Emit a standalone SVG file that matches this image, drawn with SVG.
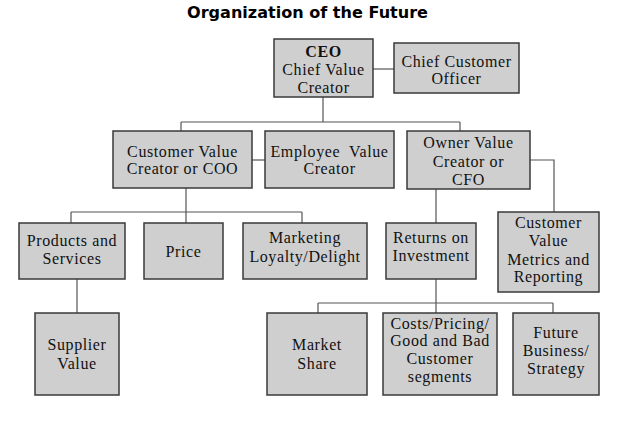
<svg xmlns="http://www.w3.org/2000/svg" width="626" height="433" viewBox="0 0 626 433">
<style>
.box{fill:#cfcfcf;stroke:#3a3a3a;stroke-width:1.5}
.t{font-family:"Liberation Serif","Times New Roman",serif;font-size:16px;letter-spacing:0.6px;fill:#111;text-anchor:middle}
.title{font-family:"DejaVu Sans",Verdana,sans-serif;font-size:15px;font-weight:bold;fill:#000;text-anchor:middle}
.c{fill:none;stroke:#555;stroke-width:1.2}
</style>
<rect width="626" height="433" fill="#fff"/>
<text class="title" x="307.5" y="17.5" textLength="241" lengthAdjust="spacingAndGlyphs">Organization of the Future</text>
<g id="connectors">
<path class="c" d="M373 69H394"/>
<path class="c" d="M323 97V122M181 122H460M181 122V131M460 122V131"/>
<path class="c" d="M252 160H265"/>
<path class="c" d="M186 188V212M71 212H302M71 212V223M302 212V223M186 212V223"/>
<path class="c" d="M77 279V313"/>
<path class="c" d="M436 189V223M530 160H554V212"/>
<path class="c" d="M436 279V303M318 303H553M318 303V313M553 303V313M436 303V313"/>
</g>
<g id="ceo"><rect class="box" x="274" y="39" width="99" height="58"/>
<text class="t" x="323.5" y="56.5" font-weight="bold">CEO</text>
<text class="t" x="323.5" y="75">Chief Value</text>
<text class="t" x="323.5" y="93">Creator</text></g>
<g id="cco"><rect class="box" x="394" y="43" width="125" height="50"/>
<text class="t" x="456.5" y="66.5">Chief Customer</text>
<text class="t" x="456.5" y="84">Officer</text></g>
<g id="coo"><rect class="box" x="113" y="131" width="139" height="57"/>
<text class="t" x="182.5" y="156.5">Customer Value</text>
<text class="t" x="182.5" y="174">Creator or COO</text></g>
<g id="employee"><rect class="box" x="265" y="131" width="129" height="57"/>
<text class="t" x="329.5" y="156.5" xml:space="preserve">Employee  Value</text>
<text class="t" x="329.5" y="174">Creator</text></g>
<g id="cfo"><rect class="box" x="407" y="131" width="123" height="58"/>
<text class="t" x="468.5" y="148">Owner Value</text>
<text class="t" x="468.5" y="166.5">Creator or</text>
<text class="t" x="468.5" y="184.5">CFO</text></g>
<g id="products"><rect class="box" x="19" y="223" width="106" height="56"/>
<text class="t" x="72" y="245.5">Products and</text>
<text class="t" x="72" y="264">Services</text></g>
<g id="price"><rect class="box" x="144" y="223" width="79" height="56"/>
<text class="t" x="183.5" y="256.5">Price</text></g>
<g id="marketing"><rect class="box" x="243" y="223" width="124" height="56"/>
<text class="t" x="305" y="242.5">Marketing</text>
<text class="t" x="305" y="261.5">Loyalty/Delight</text></g>
<g id="roi"><rect class="box" x="386" y="223" width="90" height="56"/>
<text class="t" x="431" y="242.5">Returns on</text>
<text class="t" x="431" y="261">Investment</text></g>
<g id="metrics"><rect class="box" x="498" y="212" width="101" height="80"/>
<text class="t" x="548.5" y="227.5">Customer</text>
<text class="t" x="548.5" y="246">Value</text>
<text class="t" x="548.5" y="264.5">Metrics and</text>
<text class="t" x="548.5" y="282">Reporting</text></g>
<g id="supplier"><rect class="box" x="35" y="313" width="84" height="82"/>
<text class="t" x="77" y="350">Supplier</text>
<text class="t" x="77" y="368.5">Value</text></g>
<g id="market"><rect class="box" x="267" y="313" width="100" height="82"/>
<text class="t" x="317" y="350">Market</text>
<text class="t" x="317" y="368.5">Share</text></g>
<g id="costs"><rect class="box" x="383" y="313" width="114" height="82"/>
<text class="t" x="440" y="328.5">Costs/Pricing/</text>
<text class="t" x="440" y="346">Good and Bad</text>
<text class="t" x="440" y="364">Customer</text>
<text class="t" x="440" y="381.5">segments</text></g>
<g id="future"><rect class="box" x="513" y="313" width="86" height="82"/>
<text class="t" x="556" y="337.5">Future</text>
<text class="t" x="556" y="355.5">Business/</text>
<text class="t" x="556" y="373.5">Strategy</text></g>
</svg>
